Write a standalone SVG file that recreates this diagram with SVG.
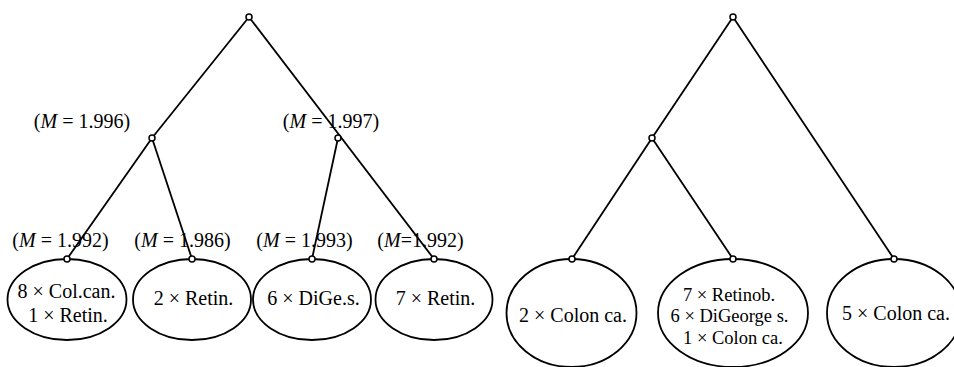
<svg xmlns="http://www.w3.org/2000/svg" width="954" height="367" viewBox="0 0 954 367">
<style>
.e{fill:none;stroke:#000;stroke-width:1.8}
.c{stroke:#000;stroke-width:1.8;fill:none}
.n{fill:#fff;stroke:#000;stroke-width:1.5}
text{font-family:"Liberation Serif","Times New Roman",serif;font-size:20px;fill:#000;text-anchor:middle}
.i{font-style:italic}
.s{font-size:18.5px}
</style>
<rect width="954" height="367" fill="#fff"/>
<g id="connectors">
<line class="c" x1="249" y1="17" x2="152" y2="138"/>
<line class="c" x1="249" y1="17" x2="434" y2="259"/>
<line class="c" x1="152" y1="138" x2="67" y2="259"/>
<line class="c" x1="152" y1="138" x2="192" y2="259"/>
<line class="c" x1="338" y1="138" x2="312" y2="259"/>
<line class="c" x1="733" y1="17" x2="652" y2="138"/>
<line class="c" x1="733" y1="17" x2="894" y2="259"/>
<line class="c" x1="652" y1="138" x2="572" y2="259"/>
<line class="c" x1="652" y1="138" x2="733" y2="259"/>
</g>
<g id="L-root"><circle class="n" cx="249" cy="17" r="3"/></g>
<g id="L-mid1"><circle class="n" cx="152" cy="138" r="3"/><text x="82" y="128">(<tspan class="i">M</tspan> = 1.996)</text></g>
<g id="L-mid2"><circle class="n" cx="338" cy="138" r="3"/><text x="331" y="128">(<tspan class="i">M</tspan> = 1.997)</text></g>
<g id="L-leaf1"><ellipse class="e" cx="67" cy="299.5" rx="59.5" ry="40.5"/><circle class="n" cx="67" cy="259" r="3"/><text x="60.5" y="247">(<tspan class="i">M</tspan> = 1.992)</text><text x="66.5" y="298">8 × Col.can.</text><text x="68" y="321.5">1 × Retin.</text></g>
<g id="L-leaf2"><ellipse class="e" cx="192" cy="299.5" rx="59" ry="40.5"/><circle class="n" cx="192" cy="259" r="3"/><text x="182.5" y="247">(<tspan class="i">M</tspan> = 1.986)</text><text x="193.5" y="305">2 × Retin.</text></g>
<g id="L-leaf3"><ellipse class="e" cx="312" cy="299.5" rx="59" ry="40.5"/><circle class="n" cx="312" cy="259" r="3"/><text x="304.5" y="247">(<tspan class="i">M</tspan> = 1.993)</text><text x="313.5" y="305">6 × DiGe.s.</text></g>
<g id="L-leaf4"><ellipse class="e" cx="434" cy="299.5" rx="58.5" ry="40.5"/><circle class="n" cx="434" cy="259" r="3"/><text x="420.5" y="247">(<tspan class="i">M</tspan>=1.992)</text><text x="435.5" y="305">7 × Retin.</text></g>
<g id="R-root"><circle class="n" cx="733" cy="17" r="3"/></g>
<g id="R-mid"><circle class="n" cx="652" cy="138" r="3"/></g>
<g id="R-leaf1"><ellipse class="e" cx="571.5" cy="313" rx="65" ry="54"/><circle class="n" cx="572" cy="259" r="3"/><text x="573" y="321.5">2 × Colon ca.</text></g>
<g id="R-leaf2"><ellipse class="e" cx="733" cy="313" rx="75" ry="54"/><circle class="n" cx="733" cy="259" r="3"/><text class="s" x="729" y="300.5">7 × Retinob.</text><text class="s" x="729.5" y="322">6 × DiGeorge s.</text><text class="s" x="733" y="343.5">1 × Colon ca.</text></g>
<g id="R-leaf3"><ellipse class="e" cx="894" cy="313" rx="67" ry="54"/><circle class="n" cx="894" cy="259" r="3"/><text x="896" y="320">5 × Colon ca.</text></g>
</svg>
